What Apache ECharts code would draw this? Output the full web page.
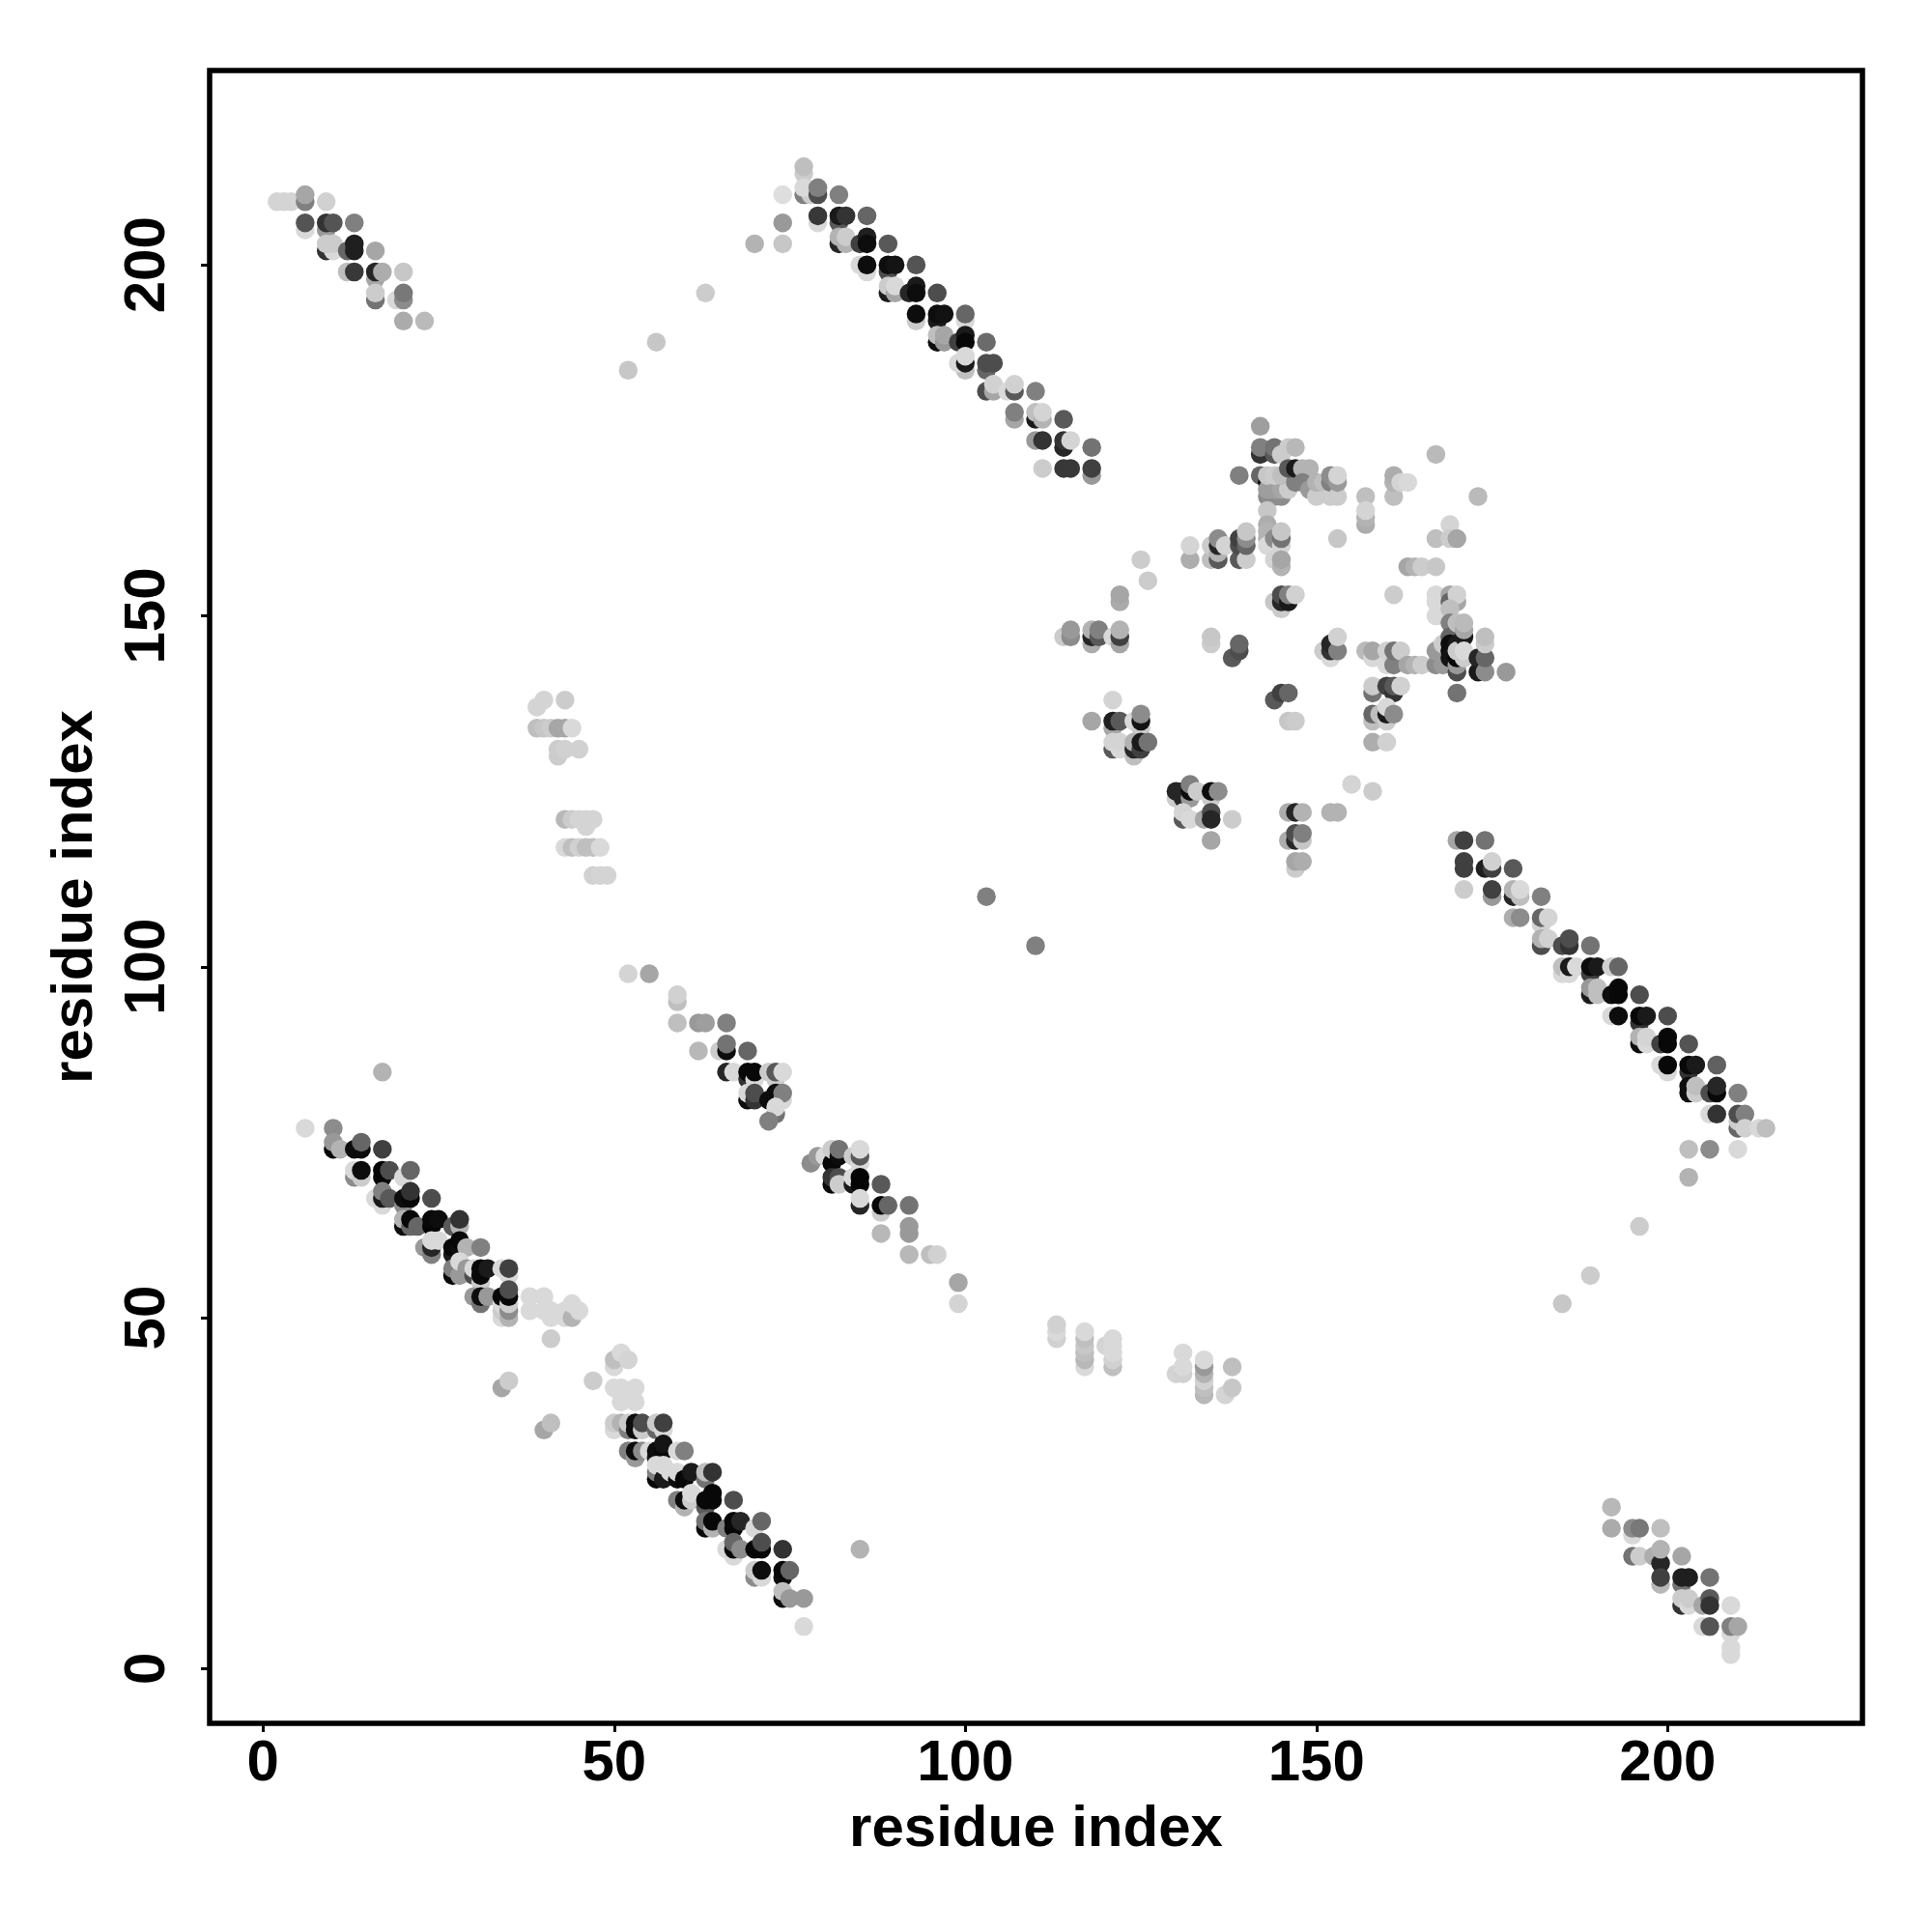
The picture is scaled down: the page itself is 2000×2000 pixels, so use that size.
<!DOCTYPE html>
<html><head><meta charset="utf-8">
<script src="https://cdn.jsdelivr.net/npm/echarts@6/dist/echarts.min.js"></script>
<style>html,body{margin:0;background:#fff}#c{width:2000px;height:2000px}</style></head>
<body><div id="c"></div>
<script>
// Each point: [residue x, residue y, grey level 0 (black) .. 1 (white)]
const tickValues = [0, 50, 100, 150, 200];
const axisTitle = 'residue index';
const topLeftBand = [[2,209,.83],[3,209,.83],[4,209,.83],[6,209,.5],[6,210,.65],[9,209,.82],[6,205,.85],[6,206,.33],[9,205,.6],[9,206,.2],[10,206,.33],[13,206,.5],[9,202,.2],[10,202,.85],[9,203,.8],[10,203,.8],[12,202,.4],[13,202,.12],[13,203,.12],[16,202,.65],[12,199,.75],[13,199,.22],[16,198,.65],[16,199,.15],[17,199,.68],[20,199,.78],[16,195,.45],[16,196,.8],[19,195,.85],[20,195,.55],[20,196,.47],[20,192,.67],[23,192,.73]];
const topBand = [[52,185,.78],[56,189,.78],[63,196,.8],[77,213,.8],[77,214,.75],[74,210,.87],[77,210,.5],[78,210,.8],[77,211,.85],[79,210,.3],[79,211,.5],[82,210,.5],[74,206,.6],[79,206,.85],[79,207,.22],[82,206,.35],[82,207,.1],[83,207,.2],[86,207,.4],[70,203,.7],[74,203,.78],[82,203,.15],[82,204,.7],[83,203,.7],[83,204,.8],[85,203,.25],[86,204,.12],[86,203,.05],[89,203,.35],[85,200,.85],[86,199,.85],[86,200,.05],[89,199,.3],[89,200,.05],[90,200,.08],[93,200,.33],[89,196,.1],[89,197,.8],[90,196,.65],[90,197,.85],[92,196,.15],[93,197,.1],[93,196,.05],[96,196,.3],[93,192,.8],[93,193,.05],[96,192,.1],[96,193,.05],[97,193,.07],[100,192,.85],[100,193,.4],[96,189,.05],[96,190,.75],[97,189,.6],[97,190,.65],[99,189,.25],[100,190,.1],[100,189,.03],[103,189,.42],[100,185,.75],[99,186,.85],[100,186,.1],[100,187,.85],[103,185,.4],[103,186,.3],[104,186,.3],[103,182,.3],[104,182,.65],[104,183,.82],[106,182,.85],[107,182,.35],[107,183,.82],[110,182,.5],[107,178,.65],[107,179,.5],[110,178,.1],[110,179,.75],[111,178,.7],[111,179,.83],[114,178,.35],[110,175,.6],[111,175,.2],[114,174,.15],[114,175,.2],[115,175,.83],[118,174,.45],[111,171,.8],[114,171,.22],[115,171,.22],[118,170,.6],[118,171,.25]];
const coreUpper = [[142,177,.62],[142,173,.2],[142,174,.5],[144,173,.35],[144,174,.45],[145,173,.8],[146,174,.8],[147,174,.72],[139,170,.5],[142,170,.4],[143,169,.03],[144,169,.05],[145,169,.1],[146,169,.15],[143,167,.55],[144,167,.55],[145,167,.55],[143,168,.62],[144,168,.62],[145,168,.65],[146,168,.8],[143,170,.78],[144,170,.8],[145,170,.75],[147,169,.5],[146,171,.35],[147,171,.1],[148,171,.7],[149,171,.7],[148,169,.5],[149,168,.6],[150,167,.8],[150,169,.7],[151,169,.75],[152,167,.8],[152,169,.5],[152,170,.55],[153,167,.8],[153,169,.6],[153,170,.83],[143,165,.78],[143,163,.68],[143,162,.7],[143,161,.7],[143,160,.85],[144,161,.55],[145,160,.83],[145,161,.45],[145,162,.78],[144,158,.83],[145,157,.7],[145,158,.65],[157,167,.75],[157,163,.68],[157,164,.7],[157,165,.83],[161,167,.75],[161,169,.7],[161,170,.68],[162,169,.83],[163,169,.85],[167,173,.73],[173,167,.73],[167,161,.75],[169,163,.83],[169,161,.8],[170,161,.65],[153,161,.78],[132,158,.68],[132,160,.83],[135,158,.75],[135,160,.8],[136,158,.35],[136,159,.7],[136,160,.15],[136,161,.55],[137,160,.83],[139,158,.35],[139,160,.3],[139,161,.25],[140,158,.8],[140,160,.4],[140,161,.55],[140,162,.78],[125,158,.8],[126,155,.8]];
const coreMiddle = [[122,152,.67],[122,153,.65],[163,157,.65],[164,157,.7],[165,157,.8],[167,157,.78],[161,153,.8],[167,150,.85],[167,152,.85],[167,153,.85],[169,153,.65],[169,152,.4],[170,152,.65],[170,153,.82],[169,151,.75],[144,152,.78],[145,151,.8],[145,152,.15],[145,153,.3],[146,152,.1],[146,153,.5],[147,153,.82],[114,147,.8],[115,147,.55],[115,148,.6],[118,146,.68],[118,147,.15],[118,148,.7],[119,147,.35],[119,148,.5],[121,147,.85],[122,146,.65],[122,147,.25],[122,148,.7],[135,146,.8],[135,147,.78],[138,144,.35],[139,145,.3],[139,146,.4],[151,145,.8],[152,144,.85],[152,145,.2],[152,146,.15],[153,145,.5],[153,147,.82],[157,145,.73],[158,144,.85],[158,145,.65],[160,143,.85],[160,145,.82],[161,143,.5],[161,145,.45],[162,145,.8],[163,143,.65],[164,143,.7],[165,143,.8],[167,143,.55],[167,145,.6],[168,143,.6],[168,146,.8],[169,149,.5],[169,147,.4],[169,146,.05],[169,145,.05],[169,144,.08],[170,142,.3],[170,143,.6],[170,144,.02],[170,146,.1],[170,145,.8],[170,149,.75],[171,147,.1],[171,144,.8],[171,145,.85],[171,148,.65],[171,149,.73],[173,142,.1],[173,144,.15],[174,142,.55],[174,144,.4],[174,146,.8],[174,147,.75],[177,142,.6],[170,139,.45]];
const coreLower = [[144,138,.35],[145,139,.25],[146,139,.4],[146,135,.78],[147,135,.8],[158,139,.45],[158,140,.8],[160,140,.25],[161,139,.2],[161,140,.35],[162,140,.82],[158,135,.75],[158,136,.4],[159,136,.75],[160,135,.8],[160,136,.1],[160,137,.85],[161,136,.55],[158,132,.68],[160,132,.82],[121,138,.83],[118,135,.65],[121,134,.65],[121,135,.12],[122,135,.35],[124,135,.85],[125,134,.8],[125,135,.08],[125,136,.55],[121,131,.35],[121,132,.83],[122,131,.85],[122,132,.83],[124,130,.75],[124,131,.15],[124,132,.7],[125,131,.25],[125,132,.1],[126,132,.45],[130,124,.8],[130,125,.15],[131,124,.15],[131,125,.15],[132,124,.6],[132,125,.05],[132,126,.5],[133,125,.8],[135,124,.8],[135,125,.05],[136,125,.55],[131,121,.35],[131,122,.83],[132,121,.85],[134,121,.65],[135,122,.3],[135,121,.15],[138,121,.8],[135,118,.65],[146,122,.68],[147,122,.15],[148,122,.7],[152,122,.7],[153,122,.7],[155,126,.83],[158,125,.8],[146,118,.68],[147,118,.15],[147,119,.3],[148,118,.78],[148,119,.5],[147,114,.8],[147,115,.65],[148,115,.68],[103,110,.5],[110,103,.5]];
const rightBand = [[170,118,.65],[171,118,.25],[174,118,.45],[171,114,.25],[171,115,.25],[174,114,.12],[175,114,.25],[175,115,.82],[178,114,.35],[171,111,.8],[175,110,.6],[175,111,.25],[178,110,.15],[178,111,.7],[179,110,.75],[179,111,.85],[182,110,.5],[178,107,.68],[179,107,.55],[182,106,.82],[182,107,.4],[183,107,.83],[182,103,.3],[182,104,.7],[183,104,.82],[185,103,.3],[186,103,.2],[186,104,.3],[189,103,.45],[185,99,.85],[185,100,.75],[186,99,.85],[186,100,.1],[187,100,.85],[189,99,.25],[189,100,.05],[190,100,.1],[192,100,.82],[193,100,.4],[189,96,.1],[189,97,.6],[190,96,.75],[190,97,.75],[192,96,.05],[193,96,.03],[193,97,.03],[196,96,.3],[192,93,.85],[193,93,.05],[196,92,.2],[196,93,.03],[197,93,.1],[200,93,.3],[196,89,.05],[196,90,.7],[197,89,.85],[197,90,.83],[199,89,.25],[200,89,.03],[200,90,.03],[203,89,.33],[200,85,.85],[199,86,.85],[200,86,.03],[203,85,.2],[203,86,.03],[204,86,.1],[207,86,.38],[203,82,.05],[203,83,.05],[204,82,.8],[204,83,.75],[206,82,.3],[207,82,.03],[207,83,.15],[210,82,.5],[206,79,.85],[207,79,.2],[210,77,.4],[210,78,.8],[210,79,.3],[211,79,.5],[211,77,.82],[213,77,.85],[214,77,.75],[203,74,.75],[206,74,.55],[210,74,.85],[203,70,.7],[196,63,.8],[189,56,.8],[185,52,.78]];
const lowerLeftBand = [[17,85,.7],[6,77,.85],[10,77,.55],[10,74,.03],[10,75,.6],[11,74,.7],[13,74,.05],[14,74,.05],[14,75,.4],[17,74,.25],[13,70,.55],[13,71,.85],[14,70,.8],[14,71,.05],[17,70,.03],[17,71,.02],[18,71,.3],[20,70,.85],[21,71,.4],[16,67,.85],[17,66,.85],[17,67,.1],[17,68,.5],[18,67,.35],[20,66,.55],[20,67,.05],[21,67,.03],[21,68,.2],[24,67,.3],[20,63,.05],[20,64,.7],[21,63,.4],[21,64,.03],[22,63,.4],[24,63,.02],[24,64,.03],[25,64,.05],[27,63,.35],[28,63,.7],[28,64,.2],[23,60,.6],[24,59,.5],[24,60,.15],[24,61,.85],[25,61,.85],[27,59,.1],[27,60,.03],[28,60,.05],[28,61,.03],[29,60,.7],[31,60,.5],[27,56,.03],[27,57,.5],[28,56,.6],[28,58,.85],[29,57,.6],[30,56,.3],[30,57,.85],[31,55,.8],[31,56,.03],[31,57,.03],[32,57,.1],[34,57,.85],[35,56,.85],[35,57,.25],[30,53,.6],[31,52,.45],[31,53,.05],[32,53,.6],[34,50,.85],[34,51,.8],[34,52,.85],[34,53,.03],[35,50,.7],[35,51,.55],[35,52,.8],[35,53,.03],[35,54,.3],[38,51,.85],[38,53,.85],[40,51,.85],[40,53,.85],[41,50,.85],[41,51,.85],[43,50,.85],[43,51,.85],[44,50,.7],[44,52,.85],[45,51,.85],[41,47,.8],[34,40,.65],[35,41,.8],[40,34,.65],[41,35,.75],[47,41,.8]];
const lowerBand = [[50,43,.85],[50,44,.75],[51,45,.85],[52,44,.83],[50,40,.85],[51,39,.85],[51,40,.85],[53,40,.85],[51,38,.85],[53,38,.85],[50,34,.85],[50,35,.8],[51,35,.7],[52,34,.5],[52,35,.8],[53,34,.05],[53,35,.05],[54,34,.8],[54,35,.3],[56,34,.4],[56,35,.8],[57,34,.85],[57,35,.25],[52,31,.5],[53,30,.6],[53,31,.05],[54,31,.55],[55,31,.85],[56,30,.1],[56,31,.05],[57,31,.03],[57,32,.08],[59,31,.85],[60,31,.5],[56,27,.03],[56,28,.5],[56,29,.85],[57,27,.1],[57,29,.85],[58,28,.85],[59,27,.05],[59,28,.85],[60,27,.03],[61,28,.1],[63,27,.45],[63,28,.75],[64,28,.2],[59,24,.5],[60,23,.7],[60,24,.05],[61,24,.8],[61,25,.85],[63,23,.35],[63,24,.03],[64,24,.03],[64,25,.03],[67,24,.3],[63,20,.03],[63,21,.45],[64,20,.7],[64,21,.03],[66,20,.5],[67,20,.03],[67,21,.03],[68,21,.15],[70,20,.85],[71,21,.4],[67,16,.85],[66,17,.85],[67,17,.03],[67,18,.4],[68,17,.55],[70,17,.03],[71,17,.03],[71,18,.3],[74,17,.2],[70,13,.55],[70,14,.8],[71,13,.85],[71,14,.05],[74,13,.05],[74,14,.03],[75,14,.4],[74,10,.05],[74,11,.75],[75,10,.6],[77,10,.6],[77,6,.85],[85,17,.7]];
const midBandA = [[52,99,.83],[55,99,.65],[59,95,.75],[59,96,.82],[59,92,.75],[62,92,.6],[63,92,.62],[66,92,.5],[62,88,.72],[65,88,.8],[66,88,.05],[66,89,.45],[69,88,.4],[66,85,.15],[67,85,.85],[69,84,.2],[69,85,.03],[70,84,.85],[70,85,.03],[72,85,.8],[73,84,.8],[73,85,.35],[74,85,.85],[69,81,.05],[69,82,.85],[70,81,.2],[70,82,.3],[72,81,.05],[73,81,.03],[73,82,.05],[74,81,.85],[74,82,.5],[73,79,.45],[73,80,.85],[72,78,.5]];
const midBandB = [[78,72,.55],[79,73,.6],[80,73,.85],[81,72,.03],[81,74,.8],[82,73,.05],[82,74,.45],[84,73,.8],[85,72,.85],[85,73,.35],[85,74,.85],[81,69,.03],[81,70,.2],[82,70,.3],[82,69,.8],[84,69,.1],[84,70,.85],[85,69,.02],[85,70,.02],[88,69,.35],[85,66,.15],[85,67,.85],[88,65,.8],[88,66,.03],[89,66,.4],[92,66,.45],[88,62,.72],[92,62,.6],[92,63,.6],[92,59,.72],[95,59,.75],[96,59,.82],[99,55,.65],[99,52,.83]];
const faintUpper = [[39,137,.83],[40,138,.83],[43,138,.8],[39,134,.75],[40,134,.78],[41,134,.8],[42,134,.65],[43,134,.65],[44,134,.85],[42,130,.8],[42,131,.8],[43,131,.82],[45,131,.82],[43,121,.72],[44,121,.8],[45,121,.83],[46,120,.83],[46,121,.83],[47,121,.83],[43,117,.85],[44,117,.75],[45,117,.82],[46,117,.75],[47,117,.75],[48,117,.85],[47,113,.82],[48,113,.83],[49,113,.83]];
const faintLower = [[113,47,.82],[113,48,.85],[113,49,.82],[117,43,.85],[117,44,.72],[117,45,.75],[117,46,.78],[117,47,.75],[117,48,.85],[120,46,.83],[121,43,.75],[121,44,.82],[121,45,.85],[121,46,.85],[121,47,.85],[130,42,.83],[131,42,.82],[131,43,.85],[131,45,.85],[134,39,.72],[134,40,.75],[134,41,.82],[134,42,.7],[134,43,.6],[134,44,.85],[138,43,.75],[137,39,.83],[138,40,.78]];
const bottomRightBand = [[192,23,.72],[192,20,.67],[195,19,.85],[195,20,.55],[196,20,.47],[199,20,.75],[195,16,.45],[196,16,.8],[198,16,.68],[199,15,.15],[199,17,.7],[202,16,.65],[199,12,.72],[199,13,.25],[202,12,.45],[202,13,.12],[203,13,.12],[206,13,.45],[202,9,.2],[202,10,.8],[203,9,.85],[203,10,.8],[205,9,.65],[206,10,.35],[206,9,.2],[209,9,.85],[205,6,.85],[206,6,.33],[209,2,.85],[209,3,.85],[209,5,.85],[209,6,.5],[210,6,.65]];

const clusters = [topLeftBand, topBand, coreUpper, coreMiddle, coreLower, rightBand, lowerLeftBand, lowerBand, midBandA, midBandB, faintUpper, faintLower, bottomRightBand];
const points = clusters.flat();
const grey = g => { const v = Math.round(g * 255); return `rgb(${v},${v},${v})`; };
const FONT = '"Liberation Sans", Arial, sans-serif';
const axisCommon = {
  type: 'value', nameLocation: 'middle', name: axisTitle, splitLine: { show: false },
  nameTextStyle: { fontFamily: FONT, fontWeight: 'bold', fontSize: 60, color: '#000' },
  axisLine: { show: false, onZero: false },
  axisTick: { show: true, customValues: tickValues, length: 9, inside: false, lineStyle: { color: '#000', width: 3 } },
  axisLabel: { show: true, customValues: tickValues, fontFamily: FONT, fontWeight: 'bold', fontSize: 60, color: '#000' }
};
const chart = echarts.init(document.getElementById('c'), null, { renderer: 'canvas', width: 2000, height: 2000 });
chart.setOption({
  animation: false, backgroundColor: '#fff',
  grid: { show: true, left: 217, top: 73, width: 1711, height: 1711, borderColor: '#000', borderWidth: 5.5, backgroundColor: 'transparent', containLabel: false },
  xAxis: { ...axisCommon, min: -7.6, max: 227.74, nameGap: 80,
    axisLabel: { ...axisCommon.axisLabel, margin: 12 } },
  yAxis: { ...axisCommon, min: -7.8, max: 227.7, nameGap: 109, nameRotate: 90,
    axisLabel: { ...axisCommon.axisLabel, margin: 64, rotate: 90, verticalAlign: 'middle', align: 'center' } },
  series: [{ type: 'scatter', data: points.map(p => ({ value: [p[0], p[1]], itemStyle: { color: grey(p[2]), opacity: 1 } })),
    symbol: 'circle', symbolSize: 19.5, large: false, progressive: 0, clip: true, z: 5 }]
});
</script></body></html>
